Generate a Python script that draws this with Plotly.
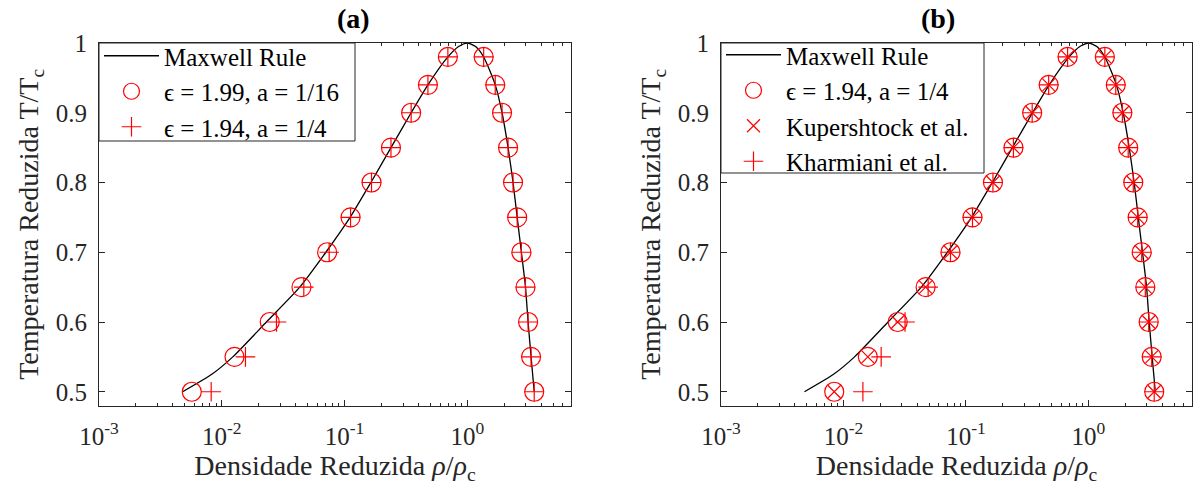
import plotly.graph_objects as go

# ---------------- data ----------------
T_levels = [0.50, 0.55, 0.60, 0.65, 0.70, 0.75, 0.80, 0.85, 0.90, 0.94, 0.98]

# Maxwell rule curve
maxwell_T = [0.50, 0.525, 0.55, 0.60, 0.65, 0.70, 0.75, 0.80, 0.85, 0.90, 0.94, 0.98, 0.995, 1.0,
             0.995, 0.98, 0.94, 0.90, 0.85, 0.80, 0.75, 0.70, 0.65, 0.60, 0.55, 0.50]
maxwell_rho = [0.0048, 0.0083, 0.0123, 0.0231, 0.0432, 0.0705, 0.111, 0.164, 0.239, 0.349, 0.478, 0.695, 0.85, 1.0,
               1.17, 1.36, 1.69, 1.92, 2.15, 2.36, 2.55, 2.76, 2.98, 3.13, 3.31, 3.51]

# panel (a): eps = 1.99, a = 1/16 (circles)
a_eps199_gas = [0.0057, 0.0127, 0.0246, 0.0446, 0.0722, 0.112, 0.166, 0.239, 0.349, 0.478, 0.695]
a_eps199_liq = [3.51, 3.31, 3.13, 2.98, 2.76, 2.55, 2.36, 2.15, 1.92, 1.69, 1.36]
# panel (a): eps = 1.94, a = 1/4 (plus)
a_eps194_gas = [0.0082, 0.0156, 0.0279, 0.0466, 0.075, 0.112, 0.166, 0.239, 0.349, 0.478, 0.695]
a_eps194_liq = [3.51, 3.31, 3.13, 2.98, 2.76, 2.55, 2.36, 2.15, 1.92, 1.69, 1.36]

# panel (b): eps = 1.94, a = 1/4 (circles)
b_eps194_gas = [0.0084, 0.0158, 0.0277, 0.0468, 0.0747, 0.113, 0.166, 0.244, 0.347, 0.473, 0.675]
b_eps194_liq = [3.44, 3.28, 3.10, 2.91, 2.72, 2.52, 2.32, 2.11, 1.89, 1.67, 1.36]
# Kupershtock et al. (x)
b_kup_gas = [0.0084, 0.0158, 0.0277, 0.0468, 0.0747, 0.113, 0.166, 0.244, 0.347, 0.473, 0.675]
b_kup_liq = [3.44, 3.28, 3.10, 2.91, 2.72, 2.52, 2.32, 2.11, 1.89, 1.67, 1.36]
# Kharmiani et al. (+)
b_kha_gas = [0.0144, 0.0203, 0.0318, 0.0491, 0.0747, 0.113, 0.166, 0.244, 0.347, 0.473, 0.675]
b_kha_liq = [3.44, 3.28, 3.10, 2.91, 2.72, 2.52, 2.32, 2.11, 1.89, 1.67, 1.36]

x_tickvals = [1e-3, 1e-2, 1e-1, 1e0]
x_ticktext = ["10<sup>-3</sup>", "10<sup>-2</sup>", "10<sup>-1</sup>", "10<sup>0</sup>"]
y_tickvals = [0.5, 0.6, 0.7, 0.8, 0.9, 1.0]
y_ticktext = ["0.5", "0.6", "0.7", "0.8", "0.9", "1"]

# ---------------- styling ----------------
FONT = "Liberation Serif"
AX = "#262626"
RED = "#ff0000"
TICK_FS = 25
LAB_FS = 28
LEG_FS = 25

minor_vals = [m * 10.0 ** e for e in range(-3, 1) for m in range(2, 10)]

fig = go.Figure()

def both(gas, liq):
    return gas + [None] + liq[::-1], T_levels + [None] + T_levels[::-1]

def add_panel(xa, ya, traces, legend):
    fig.add_trace(go.Scatter(x=maxwell_rho, y=maxwell_T, mode="lines", line=dict(color="black", width=1.3, shape="spline", smoothing=0.6),
                             name="Maxwell Rule", xaxis=xa, yaxis=ya, legend=legend))
    for name, gas, liq, sym, size in traces:
        xs, ys = both(gas, liq)
        fig.add_trace(go.Scatter(x=xs, y=ys, mode="markers", name=name, xaxis=xa, yaxis=ya, legend=legend,
                                 marker=dict(symbol=sym, size=size, color=RED, line=dict(color=RED, width=1.2))))

add_panel("x", "y", [
    ("ϵ = 1.99, a = 1/16", a_eps199_gas, a_eps199_liq, "circle-open", 19),
    ("ϵ = 1.94, a = 1/4", a_eps194_gas, a_eps194_liq, "cross-thin-open", 14),
], "legend")
add_panel("x2", "y2", [
    ("ϵ = 1.94, a = 1/4", b_eps194_gas, b_eps194_liq, "circle-open", 19),
    ("Kupershtock et al.", b_kup_gas, b_kup_liq, "x-thin-open", 13),
    ("Kharmiani et al.", b_kha_gas, b_kha_liq, "cross-thin-open", 14),
], "legend2")

W, H = 1193, 492
ytop, ybot = 43, 405.7
ydom = [1 - ybot / H, 1 - ytop / H]
xdom_a = [99 / W, 571 / W]
xdom_b = [721 / W, 1192 / W]

xaxis_common = dict(type="log", range=[-3, 0.845], tickvals=x_tickvals, ticktext=x_ticktext, automargin=False,
                    ticks="inside", ticklen=6, tickcolor=AX, tickwidth=1,
                    minor=dict(tickvals=minor_vals, ticks="inside", ticklen=3, tickcolor=AX, tickwidth=1),
                    showline=True, linecolor=AX, linewidth=1, mirror="allticks", showgrid=False, zeroline=False,
                    tickfont=dict(family=FONT, size=TICK_FS, color=AX), ticklabelstandoff=8,
                    title=dict(text="Densidade Reduzida <i>ρ</i>/<i>ρ</i><sub>c</sub>", font=dict(family=FONT, size=LAB_FS, color=AX), standoff=4))
yaxis_common = dict(range=[0.48, 1.0], tickvals=y_tickvals, ticktext=y_ticktext, automargin=False,
                    ticks="inside", ticklen=6, tickcolor=AX, tickwidth=1,
                    showline=True, linecolor=AX, linewidth=1, mirror="allticks", showgrid=False, zeroline=False,
                    tickfont=dict(family=FONT, size=TICK_FS, color=AX), ticklabelstandoff=6,
                    title=dict(text="Temperatura Reduzida T/T<sub>c</sub>", font=dict(family=FONT, size=LAB_FS, color=AX), standoff=8))

legend_common = dict(font=dict(family=FONT, size=LEG_FS, color="black"), bgcolor="rgba(0,0,0,0)", borderwidth=0,
                     xanchor="left", yanchor="top", tracegroupgap=0, itemsizing="trace", itemwidth=55)

def px_x(p):
    return p / W

def px_y(p):
    return 1 - p / H

legend_boxes = [(99, 43, 355, 141), (721, 43, 984, 173)]
shapes = [dict(type="rect", xref="paper", yref="paper", x0=px_x(x0), x1=px_x(x1), y0=px_y(y1), y1=px_y(y0),
               line=dict(color=AX, width=1), fillcolor="white", layer="above") for x0, y0, x1, y1 in legend_boxes]

fig.update_layout(
    width=W, height=H, margin=dict(l=0, r=0, t=0, b=0, autoexpand=False),
    paper_bgcolor="white", plot_bgcolor="white",
    xaxis=dict(domain=xdom_a, anchor="y", **xaxis_common),
    yaxis=dict(domain=ydom, anchor="x", **yaxis_common),
    xaxis2=dict(domain=xdom_b, anchor="y2", **xaxis_common),
    yaxis2=dict(domain=ydom, anchor="x2", **yaxis_common),
    legend=dict(x=px_x(99), y=px_y(33), **legend_common),
    legend2=dict(x=px_x(721), y=px_y(32), **legend_common),
    shapes=shapes,
    annotations=[
        dict(text="<b>(a)</b>", x=(xdom_a[0] + xdom_a[1]) / 2, y=px_y(19), xref="paper", yref="paper",
             yanchor="middle", showarrow=False, font=dict(family=FONT, size=LAB_FS, color="black")),
        dict(text="<b>(b)</b>", x=(xdom_b[0] + xdom_b[1]) / 2, y=px_y(19), xref="paper", yref="paper",
             yanchor="middle", showarrow=False, font=dict(family=FONT, size=LAB_FS, color="black")),
    ],
)

fig.write_html("out.html")
